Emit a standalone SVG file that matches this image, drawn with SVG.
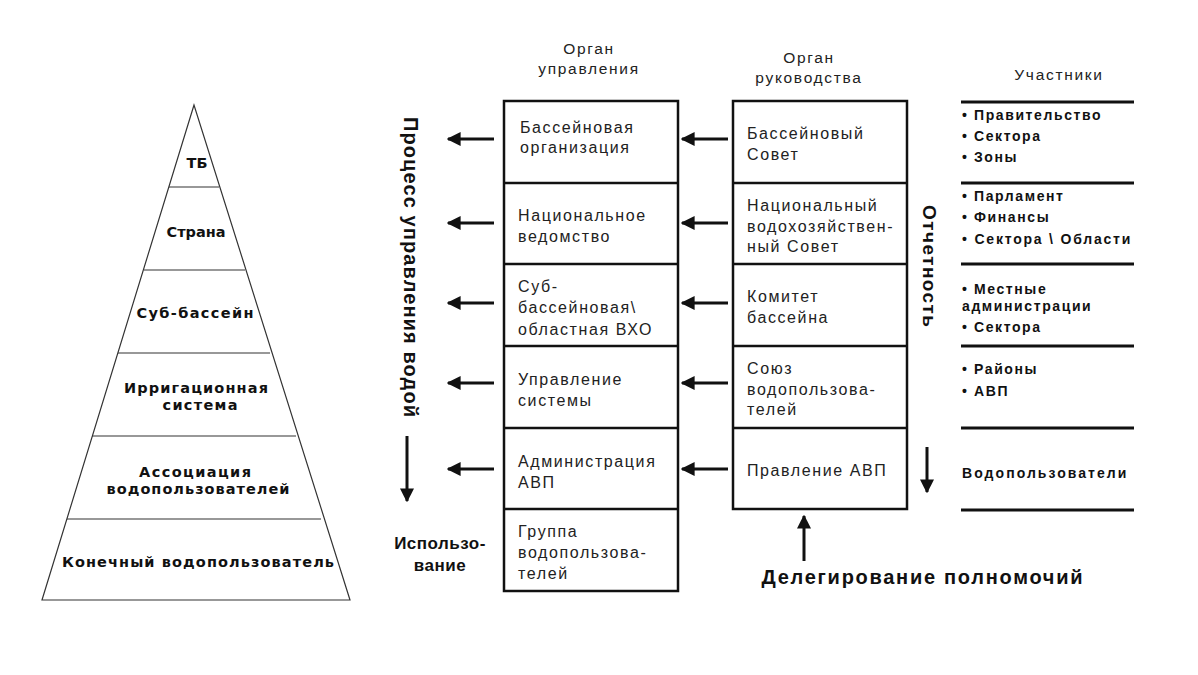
<svg xmlns="http://www.w3.org/2000/svg" width="1198" height="675" viewBox="0 0 1198 675">
<style>
.pyr{fill:none;stroke:#333;stroke-width:1.2}
.pt{font-family:"DejaVu Sans",Verdana,sans-serif;font-weight:bold;font-size:14.5px;fill:#111;text-anchor:middle;dominant-baseline:central}
.box{fill:#fff;stroke:#111;stroke-width:2.5}
.bt{font-family:"Liberation Sans",Arial,sans-serif;font-size:16px;letter-spacing:1.6px;fill:#222;dominant-baseline:central}
.hd{font-family:"Liberation Sans",Arial,sans-serif;font-size:15.5px;letter-spacing:1.7px;fill:#222;text-anchor:middle;dominant-baseline:central}
.rt{font-family:"Liberation Sans",Arial,sans-serif;font-weight:bold;font-size:14px;letter-spacing:1.6px;fill:#111;dominant-baseline:central}
.bl{font-family:"Liberation Sans",Arial,sans-serif;font-weight:bold;fill:#111;dominant-baseline:central}
.rl{stroke:#111;stroke-width:3}
.arr{stroke:#111;stroke-width:3;fill:none;marker-end:url(#ah)}
</style>
<defs>
<marker id="ah" viewBox="0 0 10 10" refX="9" refY="5" markerUnits="userSpaceOnUse" markerWidth="14" markerHeight="14" orient="auto">
<path d="M0,0 L10,5 L0,10 Z" fill="#111"/>
</marker>
</defs>
<rect width="1198" height="675" fill="#fff"/>

<g id="pyramid">
<path class="pyr" d="M194,105 L42,600 L350,600 Z"/>
<line class="pyr" x1="169" y1="187" x2="219" y2="187"/>
<line class="pyr" x1="144" y1="270" x2="245" y2="270"/>
<line class="pyr" x1="118" y1="353" x2="270" y2="353"/>
<line class="pyr" x1="92" y1="436" x2="296" y2="436"/>
<line class="pyr" x1="67" y1="519" x2="321" y2="519"/>
<text class="pt" x="197" y="163">ТБ</text>
<text class="pt" x="196" y="232">Страна</text>
<text class="pt" x="195" y="313" textLength="117" lengthAdjust="spacing">Суб-бассейн</text>
<text class="pt" x="196" y="388" textLength="144" lengthAdjust="spacing">Ирригационная</text>
<text class="pt" x="200" y="405" textLength="75" lengthAdjust="spacing">система</text>
<text class="pt" x="195" y="472" textLength="112" lengthAdjust="spacing">Ассоциация</text>
<text class="pt" x="198" y="489" textLength="183" lengthAdjust="spacing">водопользователей</text>
<text class="pt" x="198" y="562" textLength="272" lengthAdjust="spacing">Конечный водопользователь</text>
</g>

<g id="headers">
<text class="hd" x="589" y="48">Орган</text>
<text class="hd" x="589" y="68">управления</text>
<text class="hd" x="809" y="57">Орган</text>
<text class="hd" x="809" y="77">руководства</text>
<text class="hd" x="1059" y="74">Участники</text>
</g>

<g id="col-upravlenie">
<rect class="box" x="504" y="101" width="174" height="490"/>
<line class="box" x1="504" y1="183" x2="678" y2="183"/>
<line class="box" x1="504" y1="264" x2="678" y2="264"/>
<line class="box" x1="504" y1="346" x2="678" y2="346"/>
<line class="box" x1="504" y1="428" x2="678" y2="428"/>
<line class="box" x1="504" y1="509" x2="678" y2="509"/>
<text class="bt" x="520" y="127">Бассейновая</text>
<text class="bt" x="520" y="147">организация</text>
<text class="bt" x="518" y="215">Национальное</text>
<text class="bt" x="518" y="236">ведомство</text>
<text class="bt" x="518" y="286">Суб-</text>
<text class="bt" x="518" y="307">бассейновая\</text>
<text class="bt" x="518" y="329">областная ВХО</text>
<text class="bt" x="518" y="379">Управление</text>
<text class="bt" x="518" y="400">системы</text>
<text class="bt" x="518" y="461">Администрация</text>
<text class="bt" x="518" y="482">АВП</text>
<text class="bt" x="518" y="531">Группа</text>
<text class="bt" x="518" y="552">водопользова-</text>
<text class="bt" x="518" y="573">телей</text>
</g>

<g id="col-rukovodstvo">
<rect class="box" x="733" y="101" width="174" height="408"/>
<line class="box" x1="733" y1="183" x2="907" y2="183"/>
<line class="box" x1="733" y1="264" x2="907" y2="264"/>
<line class="box" x1="733" y1="346" x2="907" y2="346"/>
<line class="box" x1="733" y1="428" x2="907" y2="428"/>
<text class="bt" x="747" y="133">Бассейновый</text>
<text class="bt" x="747" y="154">Совет</text>
<text class="bt" x="747" y="205">Национальный</text>
<text class="bt" x="747" y="226">водохозяйствен-</text>
<text class="bt" x="747" y="246">ный Совет</text>
<text class="bt" x="747" y="296">Комитет</text>
<text class="bt" x="747" y="317">бассейна</text>
<text class="bt" x="747" y="368">Союз</text>
<text class="bt" x="747" y="389">водопользова-</text>
<text class="bt" x="747" y="409">телей</text>
<text class="bt" x="747" y="470">Правление АВП</text>
</g>

<g id="col-uchastniki">
<line class="rl" x1="961" y1="102" x2="1134" y2="102"/>
<line class="rl" x1="961" y1="183" x2="1134" y2="183"/>
<line class="rl" x1="961" y1="264" x2="1134" y2="264"/>
<line class="rl" x1="961" y1="346" x2="1134" y2="346"/>
<line class="rl" x1="961" y1="428" x2="1134" y2="428"/>
<line class="rl" x1="961" y1="510" x2="1134" y2="510"/>
<text class="rt" x="962" y="115">• Правительство</text>
<text class="rt" x="962" y="136">• Сектора</text>
<text class="rt" x="962" y="157">• Зоны</text>
<text class="rt" x="962" y="196">• Парламент</text>
<text class="rt" x="962" y="217">• Финансы</text>
<text class="rt" x="962" y="239" textLength="170" lengthAdjust="spacing">• Сектора \ Области</text>
<text class="rt" x="962" y="289">• Местные</text>
<text class="rt" x="962" y="306">администрации</text>
<text class="rt" x="962" y="327">• Сектора</text>
<text class="rt" x="962" y="369">• Районы</text>
<text class="rt" x="962" y="391">• АВП</text>
<text class="rt" x="962" y="473" textLength="166" lengthAdjust="spacing">Водопользователи</text>
</g>

<g id="labels">
<text class="bl" font-size="20" text-anchor="middle" transform="translate(411,267) rotate(90)" textLength="300" lengthAdjust="spacing">Процесс управления водой</text>
<text class="bl" font-size="19" text-anchor="middle" transform="translate(929,266) rotate(90)" textLength="122" lengthAdjust="spacing">Отчетность</text>
<text class="bl" font-size="17" text-anchor="middle" x="440" y="543" letter-spacing="0.5">Использо-</text>
<text class="bl" font-size="17" text-anchor="middle" x="440" y="565" letter-spacing="0.5">вание</text>
<text class="bl" font-size="20" text-anchor="middle" x="922" y="577" textLength="321" lengthAdjust="spacing">Делегирование полномочий</text>
</g>

<g id="connectors">
<line class="arr" x1="494" y1="139" x2="448" y2="139"/>
<line class="arr" x1="494" y1="223" x2="448" y2="223"/>
<line class="arr" x1="494" y1="303" x2="448" y2="303"/>
<line class="arr" x1="494" y1="383" x2="448" y2="383"/>
<line class="arr" x1="494" y1="469" x2="448" y2="469"/>
<line class="arr" x1="728" y1="139" x2="682" y2="139"/>
<line class="arr" x1="728" y1="223" x2="682" y2="223"/>
<line class="arr" x1="728" y1="303" x2="682" y2="303"/>
<line class="arr" x1="728" y1="383" x2="682" y2="383"/>
<line class="arr" x1="728" y1="469" x2="682" y2="469"/>
<line class="arr" x1="407" y1="436" x2="407" y2="501"/>
<line class="arr" x1="927" y1="447" x2="927" y2="492"/>
<line class="arr" x1="804" y1="561" x2="804" y2="516"/>
</g>
</svg>
